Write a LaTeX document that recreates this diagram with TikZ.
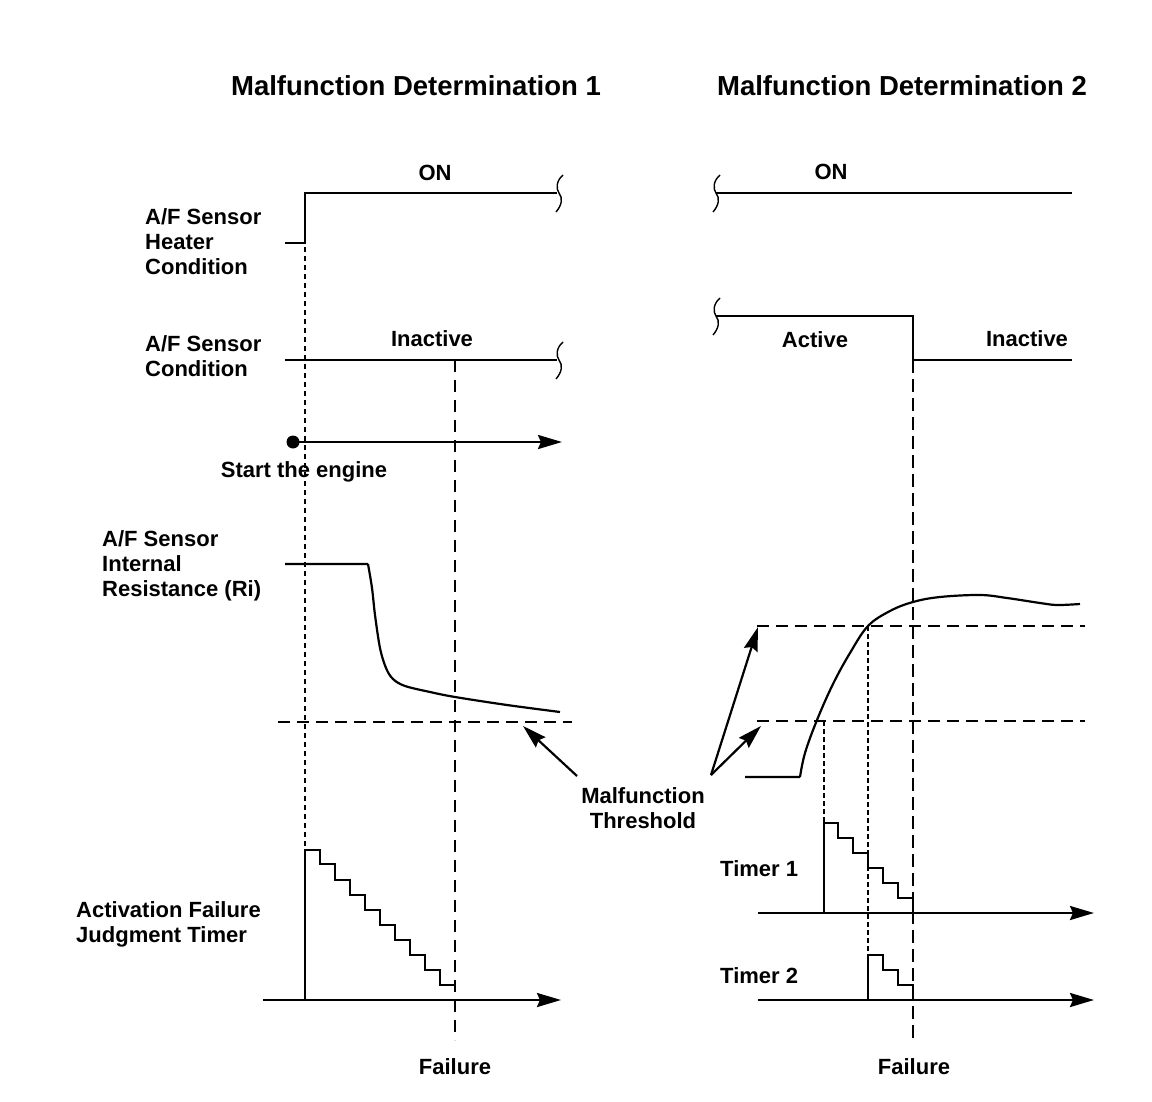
\documentclass[tikz,border=0pt]{standalone}
\usepackage{fontspec}
\setmainfont{Liberation Sans}
\usetikzlibrary{arrows.meta}
\tikzset{
  lbl/.style={font=\fontsize{22}{25}\selectfont\bfseries, inner sep=0pt},
  ttl/.style={font=\fontsize{27.5}{31}\selectfont\bfseries, inner sep=0pt},
  sigthick/.style={line width=2.7pt, line join=miter},
  sigthin/.style={line width=1.4pt},
  stepline/.style={line width=1.8pt, line join=miter},
  guide/.style={line width=1.6pt, dash pattern=on 5pt off 4pt},
  guidelong/.style={line width=1.3pt, dash pattern=on 12pt off 8pt},
  guidethick/.style={line width=2.6pt, dash pattern=on 13pt off 6pt},
  guidefine/.style={line width=1.2pt, dash pattern=on 5pt off 3pt},
  thresh/.style={line width=2.6pt, dash pattern=on 12pt off 7pt},
  axisarrow/.style={line width=2.6pt, -{Stealth[length=24pt,width=14pt,inset=3pt]}},
  ptr/.style={line width=2.2pt, -{Stealth[length=24pt,width=14pt,inset=3pt]}},
  brk/.pic={\draw[line width=1.4pt] (4,-18) .. controls (-3,-12) and (-3,-4) .. (0,0) .. controls (4,5) and (3,12) .. (-3,19);}
}
\begin{document}
\begin{tikzpicture}[x=1pt,y=-1pt]
\useasboundingbox[fill=white] (0,0) rectangle (1152,1102);

% titles
\node[ttl, anchor=base] (t1) at (416,96) {Malfunction Determination 1};
\node[ttl, anchor=base] (t2) at (902,96) {Malfunction Determination 2};

% left labels
\node[lbl, align=left, anchor=north west] (heaterlbl) at (145,208) {A/F Sensor\\Heater\\Condition};
\node[lbl, align=left, anchor=north west] (condlbl) at (145,335) {A/F Sensor\\Condition};
\node[lbl, align=left, anchor=north west] (rilbl) at (102,530) {A/F Sensor\\Internal\\Resistance (Ri)};
\node[lbl, align=left, anchor=north west] (timerlbl) at (76,901) {Activation Failure\\Judgment Timer};

% state labels
\node[lbl, anchor=base] (on1) at (435,181) {ON};
\node[lbl, anchor=base] (on2) at (831,180) {ON};
\node[lbl, anchor=base] (inact1) at (432,346) {Inactive};
\node[lbl, anchor=base] (act2) at (815,347) {Active};
\node[lbl, anchor=base] (inact2) at (1027,346) {Inactive};
\node[lbl, anchor=base] (start) at (304,477) {Start the engine};
\node[lbl, align=center, anchor=north] (mt) at (643,787) {Malfunction\\Threshold};
\node[lbl, anchor=north west] (tm1) at (720,860) {Timer 1};
\node[lbl, anchor=north west] (tm2) at (720,967) {Timer 2};
\node[lbl, anchor=base] (fail1) at (455,1074) {Failure};
\node[lbl, anchor=base] (fail2) at (914,1074) {Failure};

% heater condition
\draw[sigthick] (285,243) -- (305,243) -- (305,193) -- (557,193);
\pic at (559,193) {brk};
\draw[sigthick] (716,193) -- (1072,193);
\pic at (716,193) {brk};

% sensor condition
\draw[sigthin] (285,360) -- (557,360);
\pic at (559,360) {brk};
\draw[sigthick] (716,316) -- (913,316) -- (913,360);
\draw[sigthin] (913,360) -- (1072,360);
\pic at (716,316) {brk};

% guide lines
\draw[guide] (305,247) -- (305,850);
\draw[guidelong] (455,360) -- (455,1040);
\draw[guidethick] (913,360) -- (913,1040);
\draw[guidefine] (824,721) -- (824,823);
\draw[guidefine] (868,626) -- (868,955);

% start the engine
\fill (293,442) circle (6.5);
\coordinate (se) at (293,442);
\coordinate (seend) at (562,442);
\draw[axisarrow] (se) -- (seend);

% internal resistance, left
\draw[sigthick, line width=2.2pt] (285,564) -- (368,564)
  plot[smooth, tension=0.55] coordinates {(368,564) (372,588) (375,615) (380,648) (386,668) (393,679) (405,686) (430,692) (455,697) (507,705) (560,712)};
\draw[thresh] (278,722) -- (572,722);

% internal resistance, right
\draw[sigthick, line width=2.2pt] (745,777) -- (800,777)
  plot[smooth, tension=0.6] coordinates {(800,777) (805,753) (817,720) (833,684) (850,653) (868,626) (890,611) (913,602) (940,597) (980,595) (1007,598) (1040,603) (1057,605) (1080,604)};
\draw[thresh] (757,626) -- (1085,626);
\draw[thresh] (757,721) -- (1085,721);

% malfunction threshold pointers
\coordinate (mtl) at (577,776);
\coordinate (mtr) at (711,775);
\coordinate (pl) at (523,726);
\coordinate (pu) at (758,627);
\coordinate (plo) at (761,726);
\draw[ptr] (mtl) -- (pl);
\draw[ptr] (mtr) -- (pu);
\draw[ptr] (mtr) -- (plo);

% activation failure judgment timer
\coordinate (ax1s) at (263,1000);
\coordinate (ax1e) at (561,1000);
\draw[axisarrow] (ax1s) -- (ax1e);
\draw[stepline] (305,1000) -- (305,850) -- (320,850) -- (320,864) -- (335,864) -- (335,880) -- (350,880) -- (350,895) -- (365,895) -- (365,910) -- (380,910) -- (380,925) -- (395,925) -- (395,940) -- (410,940) -- (410,955) -- (425,955) -- (425,970) -- (440,970) -- (440,985) -- (455,985);

% timer 1
\coordinate (ax2s) at (758,913);
\coordinate (ax2e) at (1094,913);
\draw[axisarrow] (ax2s) -- (ax2e);
\draw[stepline] (824,913) -- (824,823) -- (838,823) -- (838,838) -- (853,838) -- (853,853) -- (868,853) -- (868,868) -- (883,868) -- (883,883) -- (898,883) -- (898,898) -- (913,898) -- (913,913);

% timer 2
\coordinate (ax3s) at (758,1000);
\coordinate (ax3e) at (1094,1000);
\draw[axisarrow] (ax3s) -- (ax3e);
\draw[stepline] (868,1000) -- (868,955) -- (883,955) -- (883,970) -- (898,970) -- (898,985) -- (913,985) -- (913,1000);
\end{tikzpicture}
\end{document}
